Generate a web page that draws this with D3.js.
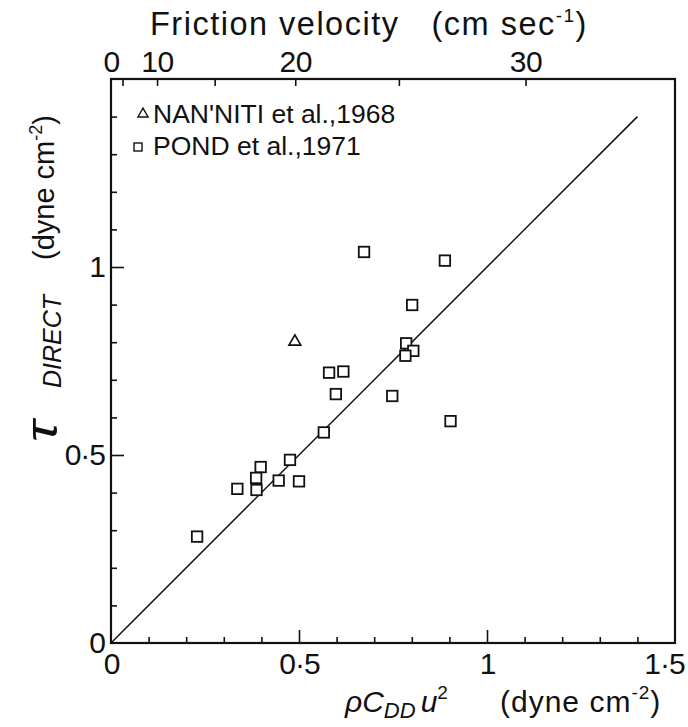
<!DOCTYPE html>
<html>
<head>
<meta charset="utf-8">
<script src="https://cdn.jsdelivr.net/npm/d3@7"></script>
<style>
  html, body { margin: 0; padding: 0; background: #fff; }
  svg { display: block; }
  text { font-family: "Liberation Sans", Arial, sans-serif; fill: #111; }
</style>
</head>
<body>
<svg id="chart" width="688" height="727"></svg>
<script>
// ---- data ----
const pondX = [0.673, 0.888, 0.801, 0.785, 0.804, 0.783, 0.580, 0.618, 0.598, 0.748,
               0.903, 0.566, 0.476, 0.398, 0.386, 0.446, 0.500, 0.336, 0.387, 0.229];
const pondY = [1.040, 1.017, 0.899, 0.797, 0.777, 0.764, 0.719, 0.722, 0.662, 0.657,
               0.590, 0.560, 0.487, 0.468, 0.439, 0.432, 0.430, 0.410, 0.407, 0.283];
const nanX = [0.489];
const nanY = [0.804];
const fitLine = [0, 1.4];           // 1:1 line endpoints (same in x and y)

const xMajorTicks = [0, 0.5, 1, 1.5];
const xTickLabels = ["0", "0·5", "1", "1·5"];
const yMajorTicks = [0, 0.5, 1];
const yTickLabels = ["0", "0·5", "1"];
const minorTicks = [0.1,0.2,0.3,0.4,0.6,0.7,0.8,0.9,1.1,1.2,1.3,1.4];
const topTicks = [5, 10, 15, 20, 25, 30];
const topLabelTicks = [0, 10, 20, 30];
const rhoAir = 1.225e-3;            // g cm^-3, tau = rho * u*^2

const legendLabels = ["NAN'NITI et al.,1968", "POND et al.,1971"];

// ---- layout ----
const L = 111, R = 675, T = 79, B = 643;
const svg = d3.select("#chart");
const x = d3.scaleLinear().domain([0, 1.5]).range([L, R]);
const y = d3.scaleLinear().domain([0, 1.5]).range([B, T]);
const uMax = Math.sqrt(1.5 / rhoAir);
const xTop = d3.scalePow().exponent(2).domain([0, uMax]).range([L, R]);

function styleAxis(g) {
  g.select(".domain").remove();
  g.selectAll(".tick line").attr("stroke", "#111").attr("stroke-width", 1.6);
  g.selectAll(".tick text").attr("font-family", "'Liberation Sans', Arial, sans-serif").attr("fill", "#111");
}

// bottom axis
svg.append("g").attr("transform", `translate(0,${B})`)
  .call(d3.axisBottom(x).tickValues(minorTicks).tickSize(-6).tickFormat(""))
  .call(styleAxis);
svg.append("g").attr("transform", `translate(0,${B})`)
  .call(d3.axisBottom(x).tickValues(xMajorTicks).tickSize(-13).tickPadding(10)
        .tickFormat((d, i) => xTickLabels[i]))
  .call(styleAxis)
  .call(g => g.selectAll(".tick text").attr("font-size", 30).attr("letter-spacing", -1))
  .call(g => g.selectAll(".tick").filter(d => d === 1.5).select("text").attr("dx", -11))
  .call(g => g.selectAll(".tick").filter(d => d === 0 || d === 1.5).select("line").remove());

// left axis
svg.append("g").attr("transform", `translate(${L},0)`)
  .call(d3.axisLeft(y).tickValues(minorTicks).tickSize(-6).tickFormat(""))
  .call(styleAxis);
svg.append("g").attr("transform", `translate(${L},0)`)
  .call(d3.axisLeft(y).tickValues(yMajorTicks).tickSize(-13).tickPadding(6)
        .tickFormat((d, i) => yTickLabels[i]))
  .call(styleAxis)
  .call(g => g.selectAll(".tick text").attr("font-size", 30).attr("letter-spacing", -1))
  .call(g => g.selectAll(".tick").filter(d => d === 0).select("line").remove());

// top axis (friction velocity)
svg.append("g").attr("transform", `translate(0,${T})`)
  .call(d3.axisTop(xTop).tickValues(topTicks).tickSize(-7).tickFormat(""))
  .call(styleAxis);
svg.append("g").attr("transform", `translate(0,${T})`)
  .call(d3.axisTop(xTop).tickValues(topLabelTicks).tickSize(0).tickPadding(7).tickFormat(d3.format("d")))
  .call(styleAxis)
  .call(g => g.selectAll(".tick text").attr("font-size", 30).attr("letter-spacing", -0.5));

// frame
svg.append("rect").attr("x", L).attr("y", T).attr("width", R - L).attr("height", B - T)
  .attr("fill", "none").attr("stroke", "#111").attr("stroke-width", 2.2);

// 1:1 line
svg.append("line")
  .attr("x1", x(fitLine[0])).attr("y1", y(fitLine[0]))
  .attr("x2", x(fitLine[1])).attr("y2", y(fitLine[1]))
  .attr("stroke", "#111").attr("stroke-width", 1.5);

// POND squares
const sq = 10.5;
svg.append("g").selectAll("rect").data(pondX.map((d, i) => [d, pondY[i]])).join("rect")
  .attr("x", d => x(d[0]) - sq / 2).attr("y", d => y(d[1]) - sq / 2)
  .attr("width", sq).attr("height", sq)
  .attr("fill", "#fff").attr("stroke", "#111").attr("stroke-width", 1.8);

// NAN'NITI triangles
const tri = d3.symbol(d3.symbolTriangle, 60);
svg.append("g").selectAll("path").data(nanX.map((d, i) => [d, nanY[i]])).join("path")
  .attr("d", tri)
  .attr("transform", d => `translate(${x(d[0])},${y(d[1]) + 1})`)
  .attr("fill", "#fff").attr("stroke", "#111").attr("stroke-width", 1.7);

// legend
svg.append("path").attr("d", d3.symbol(d3.symbolTriangle, 45))
  .attr("transform", "translate(143,114)")
  .attr("fill", "#fff").attr("stroke", "#111").attr("stroke-width", 1.4);
svg.append("text").attr("x", 153).attr("y", 123).attr("font-size", 26.5).text(legendLabels[0]);
svg.append("rect").attr("x", 134).attr("y", 143).attr("width", 8).attr("height", 8)
  .attr("fill", "#fff").attr("stroke", "#111").attr("stroke-width", 1.4);
svg.append("text").attr("x", 153).attr("y", 155).attr("font-size", 26.5).text(legendLabels[1]);

// top title
const title = svg.append("text").attr("x", 150).attr("y", 35).attr("font-size", 32.5).attr("letter-spacing", 1.5);
title.append("tspan").text("Friction velocity");
title.append("tspan").attr("dx", 32).text("(cm sec");
title.append("tspan").attr("dy", -13).attr("font-size", 19).text("-1");
title.append("tspan").attr("dy", 13).text(")");

// x label
const xl = svg.append("text").attr("x", 345).attr("y", 712).attr("font-size", 30);
xl.append("tspan").attr("font-style", "italic").text("ρC");
xl.append("tspan").attr("font-style", "italic").attr("font-size", 22).attr("dy", 6).text("DD");
xl.append("tspan").attr("font-style", "italic").attr("dy", -6).attr("dx", 5).text("u");
xl.append("tspan").attr("font-size", 19).attr("dy", -13).text("2");
const xl2 = svg.append("text").attr("x", 500).attr("y", 712).attr("font-size", 30).attr("letter-spacing", 1);
xl2.append("tspan").text("(dyne cm");
xl2.append("tspan").attr("font-size", 19).attr("dy", -13).text("-2");
xl2.append("tspan").attr("dy", 13).text(")");

// y label (rotated)
const yg = svg.append("g").attr("transform", "translate(55,0) rotate(-90)");
yg.append("text").attr("transform", "translate(-442,2) scale(1.3,1)")
  .attr("font-style", "italic").attr("font-size", 44).text("τ");
yg.append("text").attr("x", -388).attr("y", 6).attr("font-style", "italic").attr("font-size", 25).text("DIRECT");
const yl = yg.append("text").attr("x", -260).attr("y", -1).attr("font-size", 29);
yl.append("tspan").text("(dyne cm");
yl.append("tspan").attr("font-size", 18).attr("dy", -12).text("-2");
yl.append("tspan").attr("dy", 12).text(")");
</script>
</body>
</html>
